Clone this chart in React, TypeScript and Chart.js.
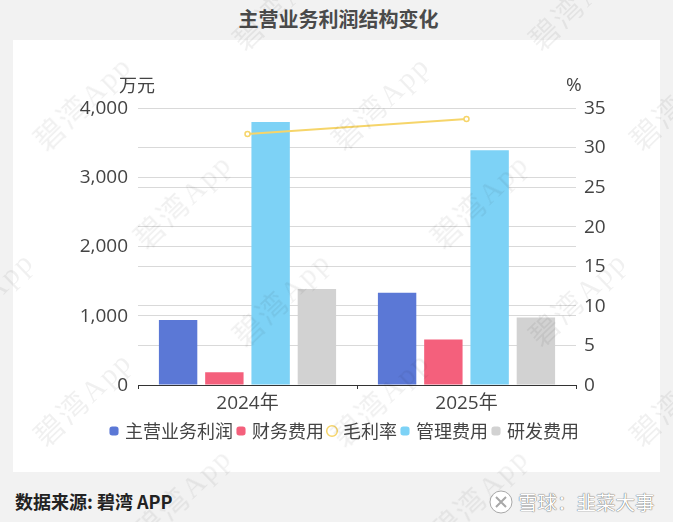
import { useEffect, useRef } from "react";
import { Chart, registerables } from "chart.js";

Chart.register(...registerables);

const years = ["2024年", "2025年"];
const coreProfit = [938, 1333];
const financeCost = [184, 657];
const grossMargin = [31.7, 33.6];
const adminCost = [3797, 3391];
const rdCost = [1387, 975];

const leftTicks = [0, 1000, 2000, 3000, 4000];
const rightTicks = [0, 5, 10, 15, 20, 25, 30, 35];

const FONT = '"Open Sans", "Noto Sans CJK SC", sans-serif';
const CJK = '"Noto Sans CJK SC", sans-serif';
const TEXT = "#444444";
const GRID = "#d9d9d9";

// watermark centres, page coordinates
const marks = [
  [282, 3], [578, 3],
  [83, 103], [381, 103], [679, 103],
  [-115, 201], [183, 201], [480, 201],
  [-15, 299], [282, 299], [578, 299],
  [83, 399], [381, 399], [679, 399],
  [183, 495], [480, 495],
];

const place = (left: number, top: number, extra = {}) => ({
  position: "absolute" as const,
  left,
  top,
  whiteSpace: "nowrap" as const,
  ...extra,
});

export default function App() {
  const ref = useRef<HTMLCanvasElement | null>(null);

  useEffect(() => {
    if (!ref.current) return;
    const chart = new Chart(ref.current, {
      type: "bar",
      data: {
        labels: years,
        datasets: [
          { label: "主营业务利润", data: coreProfit, backgroundColor: "#5b78d6", pointStyle: "rectRounded", yAxisID: "y" },
          { label: "财务费用", data: financeCost, backgroundColor: "#f4607c", pointStyle: "rectRounded", yAxisID: "y" },
          {
            type: "line",
            label: "毛利率",
            data: grossMargin,
            borderColor: "#f6d56a",
            backgroundColor: "#ffffff",
            borderWidth: 2,
            pointRadius: 2.5,
            pointBorderWidth: 1.5,
            pointBorderColor: "#f6d56a",
            pointBackgroundColor: "#ffffff",
            pointStyle: "circle",
            yAxisID: "y1",
            order: -1,
          },
          { label: "管理费用", data: adminCost, backgroundColor: "#7dd2f6", pointStyle: "rectRounded", yAxisID: "y" },
          { label: "研发费用", data: rdCost, backgroundColor: "#d2d2d2", pointStyle: "rectRounded", yAxisID: "y" },
        ] as any,
      },
      options: {
        animation: false,
        responsive: false,
        devicePixelRatio: 1,
        categoryPercentage: 0.845,
        barPercentage: 0.83,
        // left padding pushes the centred legend right; the y axis width makes up for it
        layout: { padding: { top: 68, bottom: 22, left: 18, right: 0 } },
        plugins: {
          title: { display: false },
          tooltip: { enabled: false },
          legend: {
            position: "bottom",
            labels: {
              usePointStyle: true,
              boxWidth: 4,
              boxHeight: 7.5,
              padding: 6,
              color: TEXT,
              font: { family: CJK, size: 18 },
              sort: (a: any, b: any) => a.datasetIndex - b.datasetIndex,
            },
          },
        },
        scales: {
          x: {
            grid: { drawOnChartArea: false, drawTicks: true, tickLength: 4, tickColor: "#333333" },
            border: { color: "#333333", width: 1 },
            ticks: { color: TEXT, font: { family: FONT, size: 19 }, padding: 3 },
            afterFit: (s: any) => { s.height = 31; },
          },
          y: {
            position: "left",
            min: 0,
            max: 4000,
            afterBuildTicks: (s: any) => { s.ticks = leftTicks.map((value) => ({ value })); },
            grid: { color: GRID, drawTicks: false },
            border: { display: false },
            ticks: {
              color: TEXT,
              padding: 10,
              labelOffset: 0.5,
              font: { family: FONT, size: 19 },
              callback: (v: any) => Number(v).toLocaleString("en-US"),
            },
            afterFit: (s: any) => { s.width = 107; },
          },
          y1: {
            position: "right",
            min: 0,
            max: 35,
            afterBuildTicks: (s: any) => { s.ticks = rightTicks.map((value) => ({ value })); },
            grid: { color: GRID, drawTicks: false },
            border: { display: false },
            ticks: { color: TEXT, padding: 8, labelOffset: 0.5, font: { family: FONT, size: 19 } },
            afterFit: (s: any) => { s.width = 84; },
          },
        },
      },
    });
    return () => chart.destroy();
  }, []);

  return (
    <div style={{ position: "absolute", left: 0, top: 0, width: 673, height: 522, background: "#f2f2f2", overflow: "hidden", fontFamily: CJK }}>
      <div style={{ position: "absolute", left: 0, top: 4, width: 677, textAlign: "center", fontSize: 20, lineHeight: "30px", fontWeight: 700, color: "#4a4a4a" }}>
        主营业务利润结构变化
      </div>
      <div style={{ position: "absolute", left: 13, top: 40, width: 647, height: 432, background: "#ffffff" }}>
        <canvas ref={ref} width={647} height={432} style={{ display: "block" }} />
      </div>
      <span style={place(119, 71, { fontSize: 18, lineHeight: "26px", color: TEXT })}>万元</span>
      <span style={place(566, 71, { fontSize: 19, lineHeight: "26px", color: TEXT, fontFamily: FONT })}>%</span>
      <span style={place(15, 488, { fontSize: 18, lineHeight: "26px", fontWeight: 700, color: "#222222" })}>数据来源: 碧湾 APP</span>
      <svg width="26" height="26" viewBox="0 0 26 26" style={{ position: "absolute", left: 488, top: 489 }}>
        <circle cx="13" cy="13" r="11" fill="#ffffff" stroke="#a8a8a8" strokeWidth="1" />
        <path d="M8 8 L18 18 M18 8 L8 18" stroke="#a8a8a8" strokeWidth="2" fill="none" />
      </svg>
      <span style={place(518, 488, { fontSize: 19.5, lineHeight: "28px", color: "#ffffff", textShadow: "0 0 1px #666666, 0 0 1px #666666" })}>雪球：韭菜大事</span>
      {marks.map(([x, y], i) => (
        <span
          key={i}
          style={{
            position: "absolute",
            left: x - 90,
            top: y - 20,
            width: 180,
            height: 40,
            lineHeight: "40px",
            textAlign: "center",
            fontFamily: '"Liberation Serif", "Noto Sans CJK SC", serif',
            fontSize: 30,
            letterSpacing: 2,
            color: "rgba(0,0,0,0.06)",
            transform: "rotate(-44deg)",
            pointerEvents: "none",
            whiteSpace: "nowrap",
          }}
        >
          碧湾App
        </span>
      ))}
    </div>
  );
}
